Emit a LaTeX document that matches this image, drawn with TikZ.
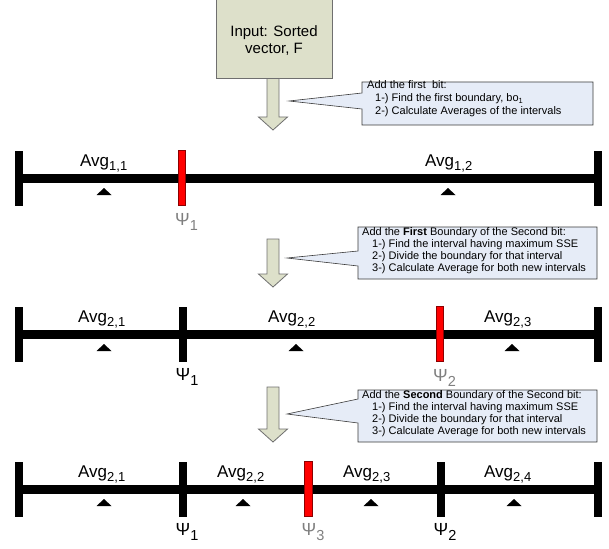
\documentclass[tikz,border=0pt]{standalone}
\usepackage{fontspec}
\setmainfont{Liberation Sans}
\definecolor{boxfill}{HTML}{DDE0CA}
\definecolor{boxline}{HTML}{6F6F6F}
\definecolor{callfill}{HTML}{E6ECF7}
\definecolor{callline}{HTML}{3A3A3A}
\definecolor{psigray}{HTML}{7F7F7F}
\newcommand{\avgsub}[1]{\raisebox{-4pt}{\fontsize{13}{13}\selectfont #1}}
\newcommand{\psisub}[1]{\raisebox{-5pt}{\fontsize{14.5}{14.5}\selectfont #1}}
\newcommand{\calsub}[1]{\raisebox{-2pt}{\fontsize{7.5}{7.5}\selectfont #1}}
\newcommand{\avgtri}[2]{\fill (#1-7.5,#2+17) -- (#1,#2+10) -- (#1+7.5,#2+17) -- cycle;}
\begin{document}
\begin{tikzpicture}[x=1pt,y=-1pt,
  tk/.style={fill=black, draw=none, inner sep=0pt, minimum width=8pt, minimum height=55pt},
  rtk/.style={fill=red, draw=red!55!black, line width=0.7pt, inner sep=0pt, minimum width=7.5pt, minimum height=54.5pt},
  avg/.style={anchor=base west, inner sep=0pt, font=\fontsize{17}{17}\selectfont},
  psi/.style={anchor=base west, inner sep=0pt, font=\fontsize{17.5}{17.5}\selectfont},
  gpsi/.style={psi, text=psigray},
  ctext/.style={anchor=base west, inner sep=0pt, font=\fontsize{11}{11}\selectfont},
  itext/.style={anchor=base, inner sep=0pt, font=\fontsize{15}{15}\selectfont},
  bar/.style={line width=9pt},
  callout/.style={fill=callfill, draw=callline, line width=0.6pt},
  fatarrow/.style={fill=boxfill, draw=boxline, line width=0.8pt, line join=miter}]
\useasboundingbox (0,0) rectangle (609,548);

% input box
\node[fill=boxfill, draw=boxline, line width=0.8pt, minimum width=116pt, minimum height=82pt,
  anchor=north west, inner sep=0pt] (input) at (216,-4) {};
\node[itext] (in1) at (274,37) {Input: Sorted};
\node[itext] (in2) at (274,54) {vector, F};

% block arrows
\draw[fatarrow] (267,78.5) -- (279,78.5) -- (279,117) -- (287.5,117) -- (273,130) -- (258.5,117) -- (267,117) -- cycle;
\draw[fatarrow] (267,239) -- (279,239) -- (279,274) -- (287.5,274) -- (273,287) -- (258.5,274) -- (267,274) -- cycle;
\draw[fatarrow] (267,387) -- (279,387) -- (279,429) -- (287.5,429) -- (273,442) -- (258.5,429) -- (267,429) -- cycle;

% callouts
\draw[callout] (362,82) -- (593,82) -- (593,125) -- (362,125) -- (362,109) -- (289,101) -- (362,93) -- cycle;
\node[ctext] (c1a) at (367,89) {Add the first\ \ bit:};
\node[ctext] (c1b) at (375,102) {1-) Find the first boundary, bo\calsub{1}};
\node[ctext] (c1c) at (375,114.5) {2-) Calculate Averages of the intervals};

\draw[callout] (358,227) -- (597,227) -- (597,279) -- (358,279) -- (358,266) -- (287,258) -- (358,251) -- cycle;
\node[ctext] (c2a) at (362,235.5) {Add the \textbf{First} Boundary of the Second bit:};
\node[ctext] (c2b) at (372,247.5) {1-) Find the interval having maximum SSE};
\node[ctext] (c2c) at (372,259.5) {2-) Divide the boundary for that interval};
\node[ctext] (c2d) at (372,271.5) {3-) Calculate Average for both new intervals};

\draw[callout] (358,390) -- (597,390) -- (597,442) -- (358,442) -- (358,423) -- (287,414) -- (358,399) -- cycle;
\node[ctext] (c3a) at (362,398.5) {Add the \textbf{Second} Boundary of the Second bit:};
\node[ctext] (c3b) at (372,410.5) {1-) Find the interval having maximum SSE};
\node[ctext] (c3c) at (372,422.5) {2-) Divide the boundary for that interval};
\node[ctext] (c3d) at (372,434.5) {3-) Calculate Average for both new intervals};

% ---------- line 1 ----------
\node[tk] (a1) at (19,178) {};
\node[tk] (b1) at (598,178) {};
\draw[bar] (a1.center) -- (b1.center);
\node[rtk] (r1) at (182,178) {};
\node[avg] (v11) at (80,166) {Avg\avgsub{1,1}};
\node[avg] (v12) at (425,166) {Avg\avgsub{1,2}};
\avgtri{104}{178}
\avgtri{448}{178}
\node[gpsi] (p11) at (175,225) {Ψ\psisub{1}};

% ---------- line 2 ----------
\node[tk] (a2) at (19,334) {};
\node[tk] (b2) at (598,334) {};
\draw[bar] (a2.center) -- (b2.center);
\node[tk] (k21) at (182.5,334) {};
\node[rtk] (r2) at (440,334) {};
\node[avg] (v21) at (78,322) {Avg\avgsub{2,1}};
\node[avg] (v22) at (268,322) {Avg\avgsub{2,2}};
\node[avg] (v23) at (484,322) {Avg\avgsub{2,3}};
\avgtri{104}{334}
\avgtri{296}{334}
\avgtri{512}{334}
\node[psi] (p21) at (175.5,380) {Ψ\psisub{1}};
\node[gpsi] (p22) at (433,381) {Ψ\psisub{2}};

% ---------- line 3 ----------
\node[tk] (a3) at (19,489) {};
\node[tk] (b3) at (598,489) {};
\draw[bar] (a3.center) -- (b3.center);
\node[tk] (k31) at (182.5,489) {};
\node[rtk] (r3) at (308.5,489) {};
\node[tk] (k32) at (440.5,489) {};
\node[avg] (v31) at (78,477) {Avg\avgsub{2,1}};
\node[avg] (v32) at (217,477) {Avg\avgsub{2,2}};
\node[avg] (v33) at (343,477) {Avg\avgsub{2,3}};
\node[avg] (v34) at (484,477) {Avg\avgsub{2,4}};
\avgtri{104}{489}
\avgtri{243}{489}
\avgtri{371}{489}
\avgtri{514}{489}
\node[psi] (p31) at (175.5,535) {Ψ\psisub{1}};
\node[gpsi] (p33) at (301.5,535) {Ψ\psisub{3}};
\node[psi] (p32) at (433.5,535) {Ψ\psisub{2}};
\end{tikzpicture}
\end{document}
